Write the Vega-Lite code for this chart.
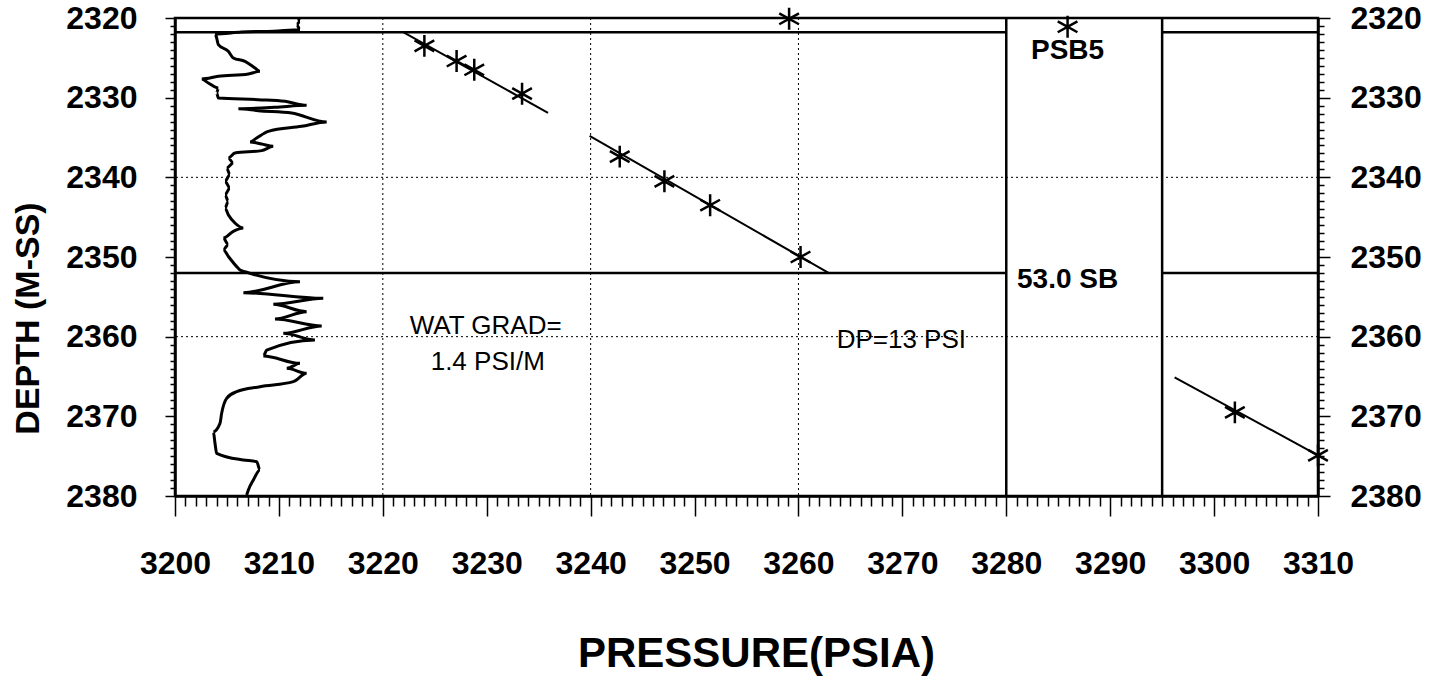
{
  "$schema": "https://vega.github.io/schema/vega-lite/v6.json",
  "width": 1143,
  "height": 478,
  "autosize": {"type": "none"},
  "padding": {"left": 175, "top": 18, "right": 115, "bottom": 182},
  "background": "white",
  "config": {
    "font": "Liberation Sans",
    "view": {"stroke": "black", "strokeWidth": 2.5},
    "axis": {
      "domainColor": "black", "domainWidth": 2.5, "tickColor": "black", "tickWidth": 1.5,
      "labelColor": "black", "titleColor": "black", "grid": false,
      "labelFont": "Liberation Sans", "titleFont": "Liberation Sans",
      "labelFontWeight": "bold", "titleFontWeight": "bold",
      "labelOverlap": false, "labelFlush": false
    }
  },
  "resolve": {"axis": {"x": "independent", "y": "independent"}},
  "layer": [
    {
      "data": {"values": [{"p": 3220}, {"p": 3240}, {"p": 3260}]},
      "mark": {"type": "rule", "color": "black", "strokeWidth": 1, "strokeDash": [2, 3]},
      "encoding": {
        "x": {"field": "p", "type": "quantitative", "scale": {"domain": [3200, 3310], "nice": false, "zero": false}, "axis": null}
      }
    },
    {
      "data": {"values": [{"d": 2340}, {"d": 2360}]},
      "mark": {"type": "rule", "color": "black", "strokeWidth": 1, "strokeDash": [2, 3]},
      "encoding": {
        "y": {"field": "d", "type": "quantitative", "scale": {"domain": [2320, 2380], "nice": false, "zero": false, "reverse": true}, "axis": null}
      }
    },
    {
      "data": {"values": [{"p": 3280}, {"p": 3295}]},
      "mark": {"type": "rule", "color": "black", "strokeWidth": 2.5},
      "encoding": {
        "x": {"field": "p", "type": "quantitative", "scale": {"domain": [3200, 3310], "nice": false, "zero": false}, "axis": null}
      }
    },
    {
      "data": {"values": [
        {"p1": 3200, "p2": 3280, "d": 2321.8},
        {"p1": 3295, "p2": 3310, "d": 2321.8},
        {"p1": 3200, "p2": 3280, "d": 2352},
        {"p1": 3295, "p2": 3310, "d": 2352}
      ]},
      "mark": {"type": "rule", "color": "black", "strokeWidth": 2.5},
      "encoding": {
        "x": {"field": "p1", "type": "quantitative", "scale": {"domain": [3200, 3310], "nice": false, "zero": false}, "axis": null},
        "x2": {"field": "p2"},
        "y": {"field": "d", "type": "quantitative", "scale": {"domain": [2320, 2380], "nice": false, "zero": false, "reverse": true}, "axis": null}
      }
    },
    {
      "data": {"values": [
        {"p1": 3222.0, "d1": 2321.8, "p2": 3235.9, "d2": 2331.9},
        {"p1": 3239.9, "d1": 2334.8, "p2": 3262.9, "d2": 2352.0},
        {"p1": 3296.2, "d1": 2365.1, "p2": 3310.0, "d2": 2374.9}
      ]},
      "mark": {"type": "rule", "color": "black", "strokeWidth": 2},
      "encoding": {
        "x": {"field": "p1", "type": "quantitative", "scale": {"domain": [3200, 3310], "nice": false, "zero": false}, "axis": null},
        "x2": {"field": "p2"},
        "y": {"field": "d1", "type": "quantitative", "scale": {"domain": [2320, 2380], "nice": false, "zero": false, "reverse": true},
          "axis": {"orient": "right",
            "values": [2320,2321,2322,2323,2324,2325,2326,2327,2328,2329,2330,2331,2332,2333,2334,2335,2336,2337,2338,2339,2340,2341,2342,2343,2344,2345,2346,2347,2348,2349,2350,2351,2352,2353,2354,2355,2356,2357,2358,2359,2360,2361,2362,2363,2364,2365,2366,2367,2368,2369,2370,2371,2372,2373,2374,2375,2376,2377,2378,2379,2380],
            "tickSize": {"condition": {"test": "datum.value % 10 === 0", "value": 12}, "value": 6},
            "labelExpr": "datum.value % 10 === 0 ? format(datum.value, 'd') : ''",
            "labelFontSize": 32, "labelPadding": 20, "title": null}},
        "y2": {"field": "d2"}
      }
    },
    {
      "data": {"values": [
        {"p": 3211.87, "d": 2320.0}, {"p": 3212.03, "d": 2320.42}, {"p": 3211.71, "d": 2320.84}, {"p": 3212.03, "d": 2321.46},
        {"p": 3209.5, "d": 2321.65}, {"p": 3206.4, "d": 2321.76}, {"p": 3203.85, "d": 2322.0}, {"p": 3204.01, "d": 2322.51},
        {"p": 3204.17, "d": 2323.35}, {"p": 3205.13, "d": 2324.18}, {"p": 3205.61, "d": 2325.02}, {"p": 3206.74, "d": 2325.44},
        {"p": 3207.70, "d": 2326.28}, {"p": 3208.18, "d": 2326.69}, {"p": 3207.06, "d": 2327.03}, {"p": 3204.17, "d": 2327.32},
        {"p": 3202.57, "d": 2327.66}, {"p": 3203.21, "d": 2328.16}, {"p": 3204.17, "d": 2328.79}, {"p": 3204.01, "d": 2329.41},
        {"p": 3204.17, "d": 2330.04}, {"p": 3208.02, "d": 2330.25}, {"p": 3210.59, "d": 2330.46}, {"p": 3212.67, "d": 2330.96},
        {"p": 3209.62, "d": 2331.21}, {"p": 3206.10, "d": 2331.38}, {"p": 3208.02, "d": 2331.63}, {"p": 3211.23, "d": 2331.92},
        {"p": 3214.60, "d": 2333.05}, {"p": 3212.19, "d": 2333.60}, {"p": 3208.98, "d": 2334.23}, {"p": 3207.86, "d": 2335.06},
        {"p": 3207.22, "d": 2335.56}, {"p": 3208.34, "d": 2335.82}, {"p": 3209.46, "d": 2336.11}, {"p": 3208.34, "d": 2336.65},
        {"p": 3205.77, "d": 2336.95}, {"p": 3205.13, "d": 2337.57}, {"p": 3205.61, "d": 2338.20}, {"p": 3204.97, "d": 2338.83},
        {"p": 3205.29, "d": 2339.67}, {"p": 3204.81, "d": 2340.50}, {"p": 3205.29, "d": 2341.34}, {"p": 3204.81, "d": 2342.18},
        {"p": 3205.13, "d": 2343.01}, {"p": 3204.81, "d": 2343.85}, {"p": 3205.13, "d": 2344.69}, {"p": 3205.77, "d": 2345.73},
        {"p": 3206.58, "d": 2346.36}, {"p": 3205.61, "d": 2346.78}, {"p": 3204.65, "d": 2347.62}, {"p": 3205.13, "d": 2348.45},
        {"p": 3204.65, "d": 2349.08}, {"p": 3205.13, "d": 2349.92}, {"p": 3205.94, "d": 2351.21}, {"p": 3206.26, "d": 2351.63},
        {"p": 3206.90, "d": 2351.92}, {"p": 3212.03, "d": 2353.10}, {"p": 3206.58, "d": 2354.48}, {"p": 3214.27, "d": 2355.19},
        {"p": 3209.46, "d": 2355.94}, {"p": 3212.67, "d": 2356.86}, {"p": 3209.62, "d": 2357.78}, {"p": 3214.12, "d": 2358.66},
        {"p": 3210.42, "d": 2359.58}, {"p": 3213.47, "d": 2360.42}, {"p": 3208.82, "d": 2361.7}, {"p": 3208.50, "d": 2362.43},
        {"p": 3212.03, "d": 2363.35}, {"p": 3210.75, "d": 2363.97}, {"p": 3212.67, "d": 2364.60}, {"p": 3211.39, "d": 2365.65},
        {"p": 3208.18, "d": 2366.28}, {"p": 3205.94, "d": 2366.90}, {"p": 3204.97, "d": 2367.74}, {"p": 3204.49, "d": 2369.62},
        {"p": 3204.33, "d": 2370.88}, {"p": 3203.69, "d": 2371.92}, {"p": 3203.85, "d": 2373.39}, {"p": 3204.01, "d": 2374.64},
        {"p": 3206.58, "d": 2375.48}, {"p": 3207.86, "d": 2375.69}, {"p": 3208.18, "d": 2376.73}, {"p": 3207.54, "d": 2377.99},
        {"p": 3207.06, "d": 2379.24}, {"p": 3206.90, "d": 2379.87}
      ]},
      "mark": {"type": "line", "color": "black", "strokeWidth": 3, "interpolate": "monotone"},
      "encoding": {
        "x": {"field": "p", "type": "quantitative", "scale": {"domain": [3200, 3310], "nice": false, "zero": false},
          "axis": {"orient": "bottom",
            "values": [3200,3201,3202,3203,3204,3205,3206,3207,3208,3209,3210,3211,3212,3213,3214,3215,3216,3217,3218,3219,3220,3221,3222,3223,3224,3225,3226,3227,3228,3229,3230,3231,3232,3233,3234,3235,3236,3237,3238,3239,3240,3241,3242,3243,3244,3245,3246,3247,3248,3249,3250,3251,3252,3253,3254,3255,3256,3257,3258,3259,3260,3261,3262,3263,3264,3265,3266,3267,3268,3269,3270,3271,3272,3273,3274,3275,3276,3277,3278,3279,3280,3281,3282,3283,3284,3285,3286,3287,3288,3289,3290,3291,3292,3293,3294,3295,3296,3297,3298,3299,3300,3301,3302,3303,3304,3305,3306,3307,3308,3309,3310],
            "tickSize": {"condition": {"test": "datum.value % 10 === 0", "value": 20}, "value": 10},
            "labelExpr": "datum.value % 10 === 0 ? format(datum.value, 'd') : ''",
            "labelFontSize": 32, "labelPadding": 32, "title": "PRESSURE(PSIA)", "titleFontSize": 42,
            "titleX": 581, "titleY": 157, "titleBaseline": "middle", "titleAlign": "center", "titleAnchor": "start"}},
        "y": {"field": "d", "type": "quantitative", "scale": {"domain": [2320, 2380], "nice": false, "zero": false, "reverse": true},
          "axis": {"orient": "left",
            "values": [2320,2321,2322,2323,2324,2325,2326,2327,2328,2329,2330,2331,2332,2333,2334,2335,2336,2337,2338,2339,2340,2341,2342,2343,2344,2345,2346,2347,2348,2349,2350,2351,2352,2353,2354,2355,2356,2357,2358,2359,2360,2361,2362,2363,2364,2365,2366,2367,2368,2369,2370,2371,2372,2373,2374,2375,2376,2377,2378,2379,2380],
            "tickSize": {"condition": {"test": "datum.value % 10 === 0", "value": 10}, "value": 5},
            "labelExpr": "datum.value % 10 === 0 ? format(datum.value, 'd') : ''",
            "labelFontSize": 32, "labelPadding": 28, "title": "DEPTH (M-SS)", "titleFontSize": 34, "titleAngle": 270,
            "titleX": -147, "titleY": 300, "titleBaseline": "middle", "titleAlign": "center", "titleAnchor": "start"}},
        "order": {"field": "d", "type": "quantitative"}
      }
    },
    {
      "data": {"values": [
        {"p": 3224.0, "d": 2323.5}, {"p": 3227.1, "d": 2325.4}, {"p": 3228.8, "d": 2326.5}, {"p": 3233.4, "d": 2329.5},
        {"p": 3242.8, "d": 2337.4}, {"p": 3247.1, "d": 2340.5}, {"p": 3251.5, "d": 2343.5}, {"p": 3260.2, "d": 2350.0},
        {"p": 3259.1, "d": 2320.1}, {"p": 3285.9, "d": 2321.1}, {"p": 3302.0, "d": 2369.5}, {"p": 3310.0, "d": 2374.9}
      ]},
      "mark": {"type": "point", "shape": "M0,-1L0,1M-0.9,-0.5L0.9,0.5M-0.9,0.5L0.9,-0.5", "filled": false, "color": "black", "strokeWidth": 2.5, "size": 480, "opacity": 1},
      "encoding": {
        "x": {"field": "p", "type": "quantitative", "scale": {"domain": [3200, 3310], "nice": false, "zero": false}, "axis": null},
        "y": {"field": "d", "type": "quantitative", "scale": {"domain": [2320, 2380], "nice": false, "zero": false, "reverse": true}, "axis": null}
      }
    },
    {
      "data": {"values": [
        {"p": 3229.9, "d": 2358.6, "t": "WAT GRAD="},
        {"p": 3230.1, "d": 2363.2, "t": "1.4 PSI/M"},
        {"p": 3269.9, "d": 2360.4, "t": "DP=13 PSI"}
      ]},
      "mark": {"type": "text", "font": "Liberation Sans", "fontSize": 26, "fontWeight": "normal", "color": "black", "align": "center", "baseline": "middle"},
      "encoding": {
        "x": {"field": "p", "type": "quantitative", "scale": {"domain": [3200, 3310], "nice": false, "zero": false}, "axis": null},
        "y": {"field": "d", "type": "quantitative", "scale": {"domain": [2320, 2380], "nice": false, "zero": false, "reverse": true}, "axis": null},
        "text": {"field": "t"}
      }
    },
    {
      "data": {"values": [
        {"p": 3285.9, "d": 2324.1, "t": "PSB5"},
        {"p": 3285.9, "d": 2352.9, "t": "53.0  SB"}
      ]},
      "mark": {"type": "text", "font": "Liberation Sans", "fontSize": 28, "fontWeight": "bold", "color": "black", "align": "center", "baseline": "middle"},
      "encoding": {
        "x": {"field": "p", "type": "quantitative", "scale": {"domain": [3200, 3310], "nice": false, "zero": false}, "axis": null},
        "y": {"field": "d", "type": "quantitative", "scale": {"domain": [2320, 2380], "nice": false, "zero": false, "reverse": true}, "axis": null},
        "text": {"field": "t"}
      }
    }
  ]
}
